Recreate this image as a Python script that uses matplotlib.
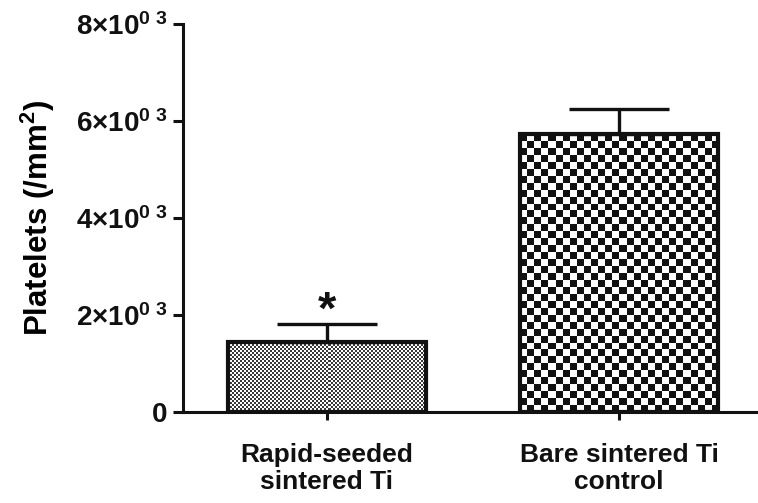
import numpy as np
import matplotlib
matplotlib.use('Agg')
import matplotlib.pyplot as plt

categories = ['Rapid-seeded\nsintered Ti', 'Bare sintered Ti\ncontrol']
means = [1440, 5730]
errors = [375, 520]
yticks = [0, 2000, 4000, 6000, 8000]
ytick_labels = ['0', r'2$\times$10$^{0\ 3}$', r'4$\times$10$^{0\ 3}$',
                r'6$\times$10$^{0\ 3}$', r'8$\times$10$^{0\ 3}$']

plt.rcParams['font.family'] = ['Liberation Sans', 'DejaVu Sans']
plt.rcParams['mathtext.fontset'] = 'custom'
plt.rcParams['mathtext.rm'] = 'Liberation Sans:bold'
plt.rcParams['mathtext.it'] = 'Liberation Sans:bold'

fig = plt.figure(figsize=(7.58, 5.03), dpi=100)
ax = fig.add_axes([0.2414, 0.181, 0.7586, 0.771])

x = np.arange(len(categories))
width = 0.68
bars = ax.bar(x, means, width=width, facecolor='none', edgecolor='#111111',
              linewidth=3, zorder=3)
ax.errorbar(x, means, yerr=[[0, 0], errors], fmt='none', ecolor='#111111',
            elinewidth=2.4, capsize=36, capthick=2.4, zorder=2)

# fill patterns clipped to bars: fine stipple and checkerboard
cell_px = [2.0, 7.0]
dark = ['#3a3a3a', '#111111']
ppx = 0.7586 * 758 / 1.969   # pixels per x unit
ppy = 0.771 * 503 / 8000     # pixels per y unit
for bar, cpx, col in zip(bars, cell_px, dark):
    x0, w, h = bar.get_x(), bar.get_width(), bar.get_height()
    nc = max(1, int(round(w * ppx / cpx)))
    nr = max(1, int(round(h * ppy / cpx)))
    grid = (np.add.outer(np.arange(nr), np.arange(nc)) % 2).astype(float)
    cmap = matplotlib.colors.ListedColormap(['white', col])
    im = ax.imshow(grid, cmap=cmap, extent=[x0, x0 + w, 0, h], origin='lower',
                   aspect='auto', interpolation='nearest', zorder=1)
    im.set_clip_path(bar)

ax.annotate('*', xy=(x[0], means[0] + errors[0]), xytext=(0, 0),
            textcoords='offset points', ha='center', va='baseline',
            fontsize=34, fontweight='bold', color='#111111')

ax.set_xlim(-0.493, 1.476)
ax.set_ylim(0, 8000)
ax.set_xticks(x)
ax.set_xticklabels(categories, fontsize=19, fontweight='bold')
ax.set_yticks(yticks)
ax.set_yticklabels(ytick_labels, fontsize=20, fontweight='bold')
ax.set_ylabel('Platelets (/mm$^2$)', fontsize=22.5, fontweight='bold', labelpad=14)

for s in ['top', 'right']:
    ax.spines[s].set_visible(False)
for s in ['left', 'bottom']:
    ax.spines[s].set_linewidth(2.2)
    ax.spines[s].set_color('#111111')
ax.tick_params(axis='y', length=7, width=2.2, pad=4, colors='#111111')
ax.tick_params(axis='x', length=6, width=2.2, pad=16, colors='#111111')

fig.savefig('out.png', dpi=100)
